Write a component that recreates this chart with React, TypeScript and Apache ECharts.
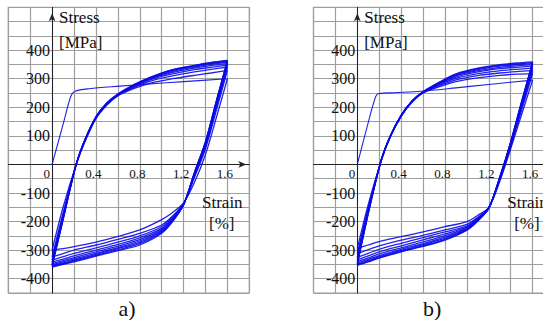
import React, { useEffect, useRef } from "react";
import * as echarts from "echarts";

// ---- shared sampling strains [%] ----
const STRAIN_UP = [0, 0.1, 0.22, 0.3, 0.4, 0.5, 0.6, 0.75, 0.9, 1.1, 1.3, 1.45, 1.6];
const STRAIN_DOWN = [1.6, 1.5, 1.4, 1.3, 1.2, 1.1, 1.0, 0.8, 0.6, 0.4, 0.2, 0.1, 0];

// ---- panel a) ----
const INIT_STRAIN_A = [0, 0.1, 0.17, 0.21, 0.34, 0.62, 0.89, 1.2, 1.6];
const INIT_STRESS_A = [0, 140, 238, 256, 265, 274, 282, 290, 300];
const LOWER_A = [
  [300, 165, 35, -62, -135, -168, -193, -229, -252, -272, -288, -295, -300],
  [329, 190, 55, -45, -138, -180, -212, -241, -262, -282, -300, -312, -324],
  [341, 200, 62, -40, -139, -184, -218, -250, -272, -292, -311, -323, -335],
  [348, 208, 68, -36, -140, -188, -224, -257, -280, -300, -320, -331, -342],
  [353, 213, 72, -33, -140, -191, -228, -263, -286, -306, -326, -337, -347],
  [357, 217, 75, -31, -141, -194, -232, -268, -291, -311, -331, -341, -351],
  [360, 220, 77, -29, -141, -196, -235, -273, -295, -315, -335, -345, -354],
  [362, 222, 79, -28, -141, -198, -238, -277, -299, -318, -338, -348, -357],
  [364, 224, 80, -27, -141, -200, -241, -282, -302, -321, -341, -350, -359],
];
const UPPER_A = [
  [-300, -150, 0, 80, 160, 208, 240, 266, 285, 300, 312, 320, 329],
  [-324, -170, 0, 82, 163, 210, 242, 270, 292, 310, 324, 333, 341],
  [-335, -180, 0, 84, 164, 212, 243, 273, 297, 317, 332, 340, 348],
  [-342, -185, 0, 85, 165, 213, 244, 275, 300, 322, 337, 346, 353],
  [-347, -188, 0, 86, 165, 214, 245, 277, 302, 326, 341, 350, 357],
  [-351, -190, 0, 86, 166, 214, 245, 278, 304, 329, 344, 353, 360],
  [-354, -192, 0, 87, 166, 215, 246, 279, 305, 331, 346, 355, 362],
  [-357, -194, 0, 87, 167, 215, 246, 280, 306, 332, 347, 357, 364],
];

// ---- panel b) ----
const INIT_STRAIN_B = [0, 0.1, 0.168, 0.2, 0.34, 0.58, 0.9, 1.2, 1.6];
const INIT_STRESS_B = [0, 147, 238, 248, 251, 256, 268, 280, 295];
const LOWER_B = [
  [295, 175, 55, -60, -150, -178, -200, -218, -236, -253, -270, -282, -294],
  [318, 190, 62, -55, -152, -185, -210, -229, -248, -265, -285, -298, -312],
  [328, 198, 66, -52, -152, -188, -215, -236, -256, -276, -297, -311, -325],
  [337, 205, 70, -50, -153, -191, -219, -243, -264, -285, -306, -320, -334],
  [344, 210, 73, -48, -153, -193, -222, -249, -271, -292, -313, -327, -340],
  [349, 214, 75, -47, -153, -195, -225, -254, -277, -297, -319, -332, -345],
  [353, 217, 77, -46, -153, -196, -227, -258, -281, -301, -323, -336, -349],
  [356, 219, 78, -45, -153, -197, -229, -262, -284, -304, -326, -339, -351],
  [359, 221, 79, -45, -153, -198, -230, -265, -287, -306, -328, -341, -353],
];
const UPPER_B = [
  [-294, -140, 15, 95, 168, 218, 250, 272, 290, 303, 312, 316, 318],
  [-312, -150, 15, 96, 169, 219, 251, 276, 296, 311, 320, 325, 328],
  [-325, -158, 16, 97, 170, 220, 252, 279, 301, 318, 328, 333, 337],
  [-334, -163, 17, 98, 171, 221, 253, 282, 306, 324, 335, 340, 344],
  [-340, -166, 17, 98, 171, 221, 253, 284, 310, 328, 340, 345, 349],
  [-345, -169, 18, 99, 172, 222, 254, 286, 313, 332, 344, 349, 353],
  [-349, -171, 18, 99, 172, 222, 254, 287, 315, 335, 347, 352, 356],
  [-351, -172, 18, 99, 172, 222, 254, 288, 317, 337, 349, 355, 359],
];

const X_TICK_LABELS = ["0.4", "0.8", "1.2", "1.6"];
const Y_TICK_LABELS = ["-400", "-300", "-200", "-100", "100", "200", "300", "400"];
const PANEL_LABELS = ["a)", "b)"];

const X_MIN = -0.4;
const X_MAX = 1.8;
const Y_MIN = -450;
const Y_MAX = 550;

const SERIF = "'Liberation Serif', 'Times New Roman', serif";
const CURVE = "#0a0ae6";
const GRIDC = "#9e9e9e";
const INK = "#111";

export default function App() {
  const ref = useRef<HTMLDivElement>(null);
  useEffect(() => {
    if (!ref.current) return;
    const chart = echarts.init(ref.current, undefined, { renderer: "svg" });
    const pairs = (xs: number[], ys: number[]) => xs.map((x, i) => [x, ys[i]]);
    const lineSeries = (idx: number, data: number[][], w = 1.3) => ({
      type: "line",
      xAxisIndex: idx,
      yAxisIndex: idx,
      data,
      showSymbol: false,
      symbol: "none",
      smooth: 0.3,
      silent: true,
      lineStyle: { color: CURVE, width: w, opacity: 0.9 },
      z: 3,
    });
    const series: any[] = [];
    const panels = [
      { init: pairs(INIT_STRAIN_A, INIT_STRESS_A), lower: LOWER_A, upper: UPPER_A },
      { init: pairs(INIT_STRAIN_B, INIT_STRESS_B), lower: LOWER_B, upper: UPPER_B },
    ];
    panels.forEach((p, idx) => {
      series.push(lineSeries(idx, p.init, 1.1));
      p.lower.forEach((l) => series.push(lineSeries(idx, pairs(STRAIN_DOWN, l))));
      p.upper.forEach((u) => series.push(lineSeries(idx, pairs(STRAIN_UP, u))));
    });

    const lefts = [8.3, 313.5];
    const GW = 241;
    const GH = 285.7;
    const TOP = 7.3;
    // offsets that put each axis on the other axis's zero
    const yOff = -((0 - X_MIN) / (X_MAX - X_MIN)) * GW;
    const xOff = -((0 - Y_MIN) / (Y_MAX - Y_MIN)) * GH;
    const grids = lefts.map((l) => ({
      left: l,
      top: TOP,
      width: GW,
      height: GH,
      show: true,
      borderColor: GRIDC,
      borderWidth: 1.2,
      containLabel: false,
      outerBoundsMode: "none",
    }));
    const xAxes = lefts.map((_, i) => ({
      type: "value",
      gridIndex: i,
      position: "bottom",
      offset: xOff,
      min: X_MIN,
      max: X_MAX,
      interval: 0.2,
      axisLine: {
        onZero: false,
        lineStyle: { color: "#222", width: 1 },
        symbol: ["none", "arrow"],
        symbolSize: [5, 8],
        symbolOffset: [0, -3],
      },
      axisTick: { show: false },
      splitLine: { show: true, lineStyle: { color: GRIDC, width: 1.2 } },
      axisLabel: {
        margin: 3,
        fontFamily: SERIF,
        fontSize: 13,
        color: INK,
        padding: [0, 5, 0, 0],
        formatter: (v: number) => {
          const s = (Math.round(v * 10) / 10).toFixed(1);
          return X_TICK_LABELS.includes(s) ? s : "";
        },
      },
    }));
    const yAxes = lefts.map((_, i) => ({
      type: "value",
      gridIndex: i,
      position: "left",
      offset: yOff,
      min: Y_MIN,
      max: Y_MAX,
      interval: 50,
      axisLine: {
        onZero: false,
        lineStyle: { color: "#222", width: 1 },
        symbol: ["none", "arrow"],
        symbolSize: [5, 8],
        symbolOffset: [0, -6],
      },
      axisTick: { show: false },
      splitLine: { show: true, lineStyle: { color: GRIDC, width: 1.2 } },
      axisLabel: {
        margin: 2,
        fontFamily: SERIF,
        fontSize: 16,
        color: INK,
        formatter: (v: number) => {
          const s = String(Math.round(v));
          return Y_TICK_LABELS.includes(s) ? s : "";
        },
      },
    }));

    const txt = (text: string, x: number, y: number, size: number, align = "left") => ({
      type: "text",
      x,
      y,
      z: 10,
      style: {
        text,
        fill: INK,
        font: `${size}px ${SERIF}`,
        textAlign: align,
        textVerticalAlign: "middle",
      },
    });
    const graphic: any[] = [];
    lefts.forEach((l, i) => {
      const dx = l - 8.3;
      graphic.push(txt("Stress", 59 + dx, 17, 17));
      graphic.push(txt("[MPa]", 59 + dx, 42, 17));
      graphic.push(txt("Strain", 202 + dx, 202, 17));
      graphic.push(txt("[%]", 209 + dx, 223, 17));
      graphic.push(txt("0", 50 + dx, 173, 13, "right"));
      graphic.push(txt(PANEL_LABELS[i], 127 + dx, 308, 22, "center"));
    });

    chart.setOption({
      animation: false,
      backgroundColor: "#fff",
      grid: grids,
      xAxis: xAxes,
      yAxis: yAxes,
      series,
      graphic,
    });
    return () => chart.dispose();
  }, []);
  return (
    <div
      ref={ref}
      style={{ position: "absolute", left: 0, top: 0, width: 543, height: 320 }}
    />
  );
}
